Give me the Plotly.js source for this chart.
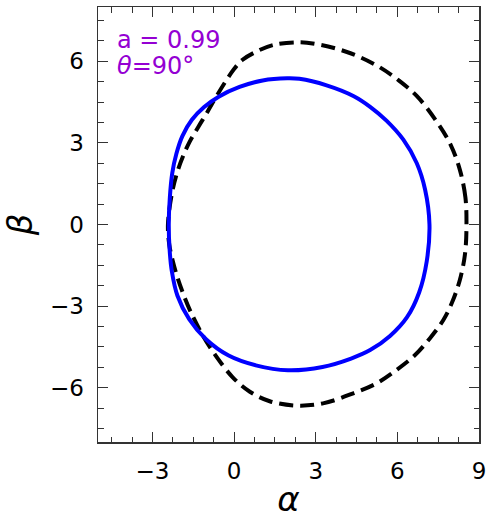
<!DOCTYPE html>
<html>
<head>
<meta charset="utf-8">
<script src="https://cdn.plot.ly/plotly-3.0.1.min.js"></script>
<style>
  html, body { margin: 0; padding: 0; background: #fff; }
  #chart { width: 493px; height: 523px; }
</style>
</head>
<body>
<div id="chart"></div>
<script>
// shadow boundaries (alpha, beta)
const kerrAlpha = [7.18, 7.02, 6.71, 6.22, 5.60, 5.00, 4.40, 3.40, 2.40, 1.95, 1.05, 0.20, -0.55, -1.10, -1.55, -1.90, -2.12, -2.27, -2.36, -2.40,
  -2.37, -2.29, -2.08, -1.65, -1.03, -0.20, 0.80, 1.98, 3.25, 4.30, 5.00, 5.73, 6.35, 6.80, 7.08, 7.18];
const kerrBeta = [0.00, 1.28, 2.26, 3.12, 3.82, 4.33, 4.72, 5.12, 5.36, 5.38, 5.30, 5.06, 4.71, 4.32, 3.85, 3.25, 2.60, 1.90, 1.00, 0.00,
  -0.90, -1.70, -2.62, -3.48, -4.22, -4.82, -5.18, -5.36, -5.24, -4.93, -4.62, -4.10, -3.42, -2.50, -1.35, 0.00];

const dashAlpha = [8.54, 8.50, 8.30, 7.95, 7.40, 6.72, 6.05, 5.36, 4.62, 3.89, 3.15, 2.40, 1.43, 0.80, 0.30, 0.00, -0.30, -0.65, -0.98, -1.32, -1.63, -1.88, -2.08, -2.28, -2.43,
  -2.38, -2.25, -2.08, -1.88, -1.60, -1.14, -0.65, -0.05, 0.58, 1.31, 2.29, 3.27, 4.38, 5.24, 5.97, 6.65, 7.20, 7.69, 8.05, 8.33, 8.49, 8.54];
const dashBeta = [0.00, 1.00, 2.00, 2.95, 3.85, 4.72, 5.30, 5.78, 6.16, 6.43, 6.61, 6.70, 6.60, 6.35, 6.05, 5.72, 5.28, 4.71, 4.14, 3.58, 3.05, 2.50, 1.95, 1.16, 0.00,
  -0.75, -1.35, -1.95, -2.52, -3.20, -4.10, -4.86, -5.62, -6.15, -6.50, -6.66, -6.58, -6.21, -5.84, -5.35, -4.80, -4.18, -3.51, -2.77, -1.91, -1.05, 0.00];

const xTickVals = [-3, 0, 3, 6, 9];
const yTickVals = [-6, -3, 0, 3, 6];

const font = "DejaVu Sans, sans-serif";
const purple = "#9400d3";

const traces = [
  {
    x: dashAlpha, y: dashBeta, type: "scatter", mode: "lines",
    line: { color: "#000", width: 4, dash: "14px,7px", shape: "spline", smoothing: 1 },
    name: "dashed"
  },
  {
    x: kerrAlpha, y: kerrBeta, type: "scatter", mode: "lines",
    line: { color: "#0000ff", width: 4, shape: "spline", smoothing: 1 },
    name: "Kerr"
  }
];

const axisCommon = {
  showgrid: false, zeroline: false,
  showline: true, linecolor: "#333", linewidth: 1.5, mirror: "allticks",
  ticks: "inside", ticklen: 10, tickwidth: 1, tickcolor: "#333",
  tickfont: { family: font, size: 23, color: "#000" },
  minor: { ticks: "inside", ticklen: 5.5, tickwidth: 1, tickcolor: "#333", dtick: 0.75, showgrid: false }
};

const layout = {
  width: 493, height: 523,
  margin: { l: 98, r: 14, t: 7, b: 81 },
  paper_bgcolor: "#fff", plot_bgcolor: "#fff",
  showlegend: false,
  font: { family: font, color: "#000" },
  xaxis: Object.assign({}, axisCommon, {
    range: [-5, 9], tickvals: xTickVals, ticklabelstandoff: 8,
    title: { text: "<i>α</i>", font: { family: font, size: 34 }, standoff: 4 }
  }),
  yaxis: Object.assign({}, axisCommon, {
    range: [-8, 8], tickvals: yTickVals, ticklabelstandoff: 8,
    title: { text: "<i>β</i>", font: { family: font, size: 34 }, standoff: 13 }
  }),
  annotations: [
    { x: -4.38, y: 6.80, xref: "x", yref: "y", xanchor: "left", yanchor: "middle",
      text: "a = 0.99", showarrow: false, font: { family: font, size: 24, color: purple } },
    { x: -4.38, y: 5.82, xref: "x", yref: "y", xanchor: "left", yanchor: "middle",
      text: "<i>θ</i>=90°", showarrow: false, font: { family: font, size: 24, color: purple } }
  ]
};

Plotly.newPlot("chart", traces, layout, { staticPlot: true });
</script>
</body>
</html>
